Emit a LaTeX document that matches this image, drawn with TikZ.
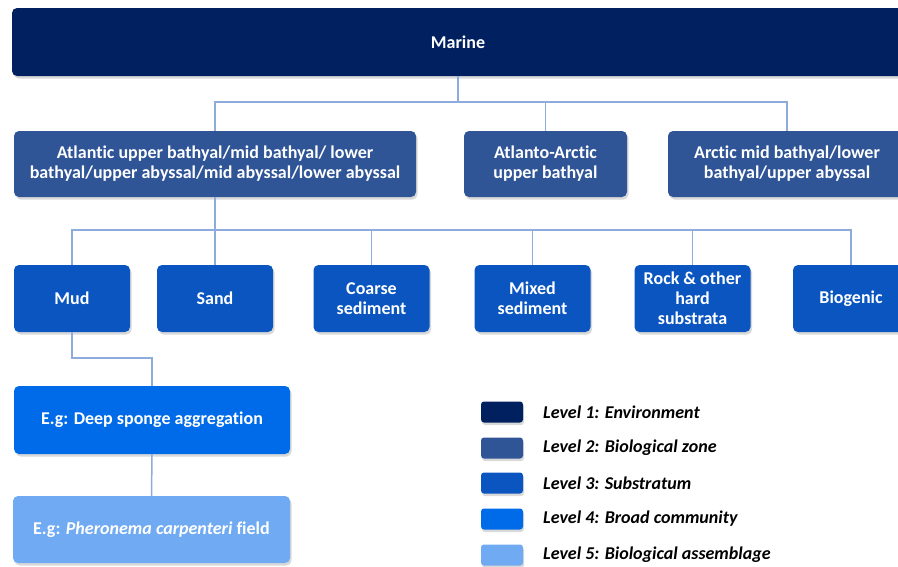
\documentclass[tikz,border=0pt]{standalone}
\usepackage{fontspec}
\setmainfont{Carlito}[Ligatures={NoCommon}]
\usetikzlibrary{shadows}
\definecolor{lvA}{HTML}{002060}
\definecolor{lvB}{HTML}{2F5597}
\definecolor{lvC}{HTML}{0A55C0}
\definecolor{lvD}{HTML}{006BE8}
\definecolor{lvE}{HTML}{6FAAF2}
\definecolor{conn}{HTML}{8FAADC}
\tikzset{
  box/.style={rectangle, rounded corners=5pt, text=white, align=center,
    font=\fontsize{18}{20}\selectfont\bfseries, inner sep=0pt,
    drop shadow={opacity=0.3, shadow xshift=1.5pt, shadow yshift=-2.5pt}},
  swatch/.style={rectangle, rounded corners=3pt, minimum width=42pt, minimum height=21pt, inner sep=0pt,
    drop shadow={opacity=0.3, shadow xshift=1pt, shadow yshift=-2.5pt}},
  legtext/.style={anchor=west, inner sep=0pt, font=\fontsize{18}{20}\selectfont\bfseries\itshape, text=black},
  link/.style={draw=conn, line width=1.5pt}
}
\begin{document}
\begin{tikzpicture}[x=1pt,y=-1pt]
\useasboundingbox (0,0) rectangle (898,566);
\clip (0,0) rectangle (898,566);
% level 1
\node[box, fill=lvA, minimum width=892pt, minimum height=68pt] (marine) at (458,42) {Marine};
% level 2
\node[box, fill=lvB, minimum width=402pt, minimum height=66pt] (z1) at (215,164) {Atlantic upper bathyal/mid bathyal/ lower\\bathyal/upper abyssal/mid abyssal/lower abyssal};
\node[box, fill=lvB, minimum width=163pt, minimum height=66pt] (z2) at (545.5,164) {Atlanto-Arctic\\upper bathyal};
\node[box, fill=lvB, minimum width=238pt, minimum height=66pt] (z3) at (787,164) {Arctic mid bathyal/lower\\bathyal/upper abyssal};
% level 3
\node[box, fill=lvC, minimum width=116pt, minimum height=67pt] (s1) at (72,298.5) {Mud};
\node[box, fill=lvC, minimum width=116pt, minimum height=67pt] (s2) at (215,298.5) {Sand};
\node[box, fill=lvC, minimum width=116pt, minimum height=67pt] (s3) at (371.5,298.5) {Coarse\\sediment};
\node[box, fill=lvC, minimum width=116pt, minimum height=67pt] (s4) at (532.5,298.5) {Mixed\\sediment};
\node[box, fill=lvC, minimum width=116pt, minimum height=67pt] (s5) at (692.5,298.5) {Rock \& other\\hard\\substrata};
\node[box, fill=lvC, minimum width=116pt, minimum height=67pt] (s6) at (851,298.5) {Biogenic};
% level 4 and 5
\node[box, fill=lvD, minimum width=276pt, minimum height=68pt] (c1) at (152,420) {E.g: Deep sponge aggregation};
\node[box, fill=lvE, minimum width=277pt, minimum height=67pt] (a1) at (151.5,529.5) {E.g: \textit{Pheronema carpenteri} field};
% connectors
\coordinate (b1) at (458,102);
\coordinate (b2) at (215,230);
\coordinate (b3) at (152,358);
\draw[link] (marine.south) -- (b1);
\draw[link] (z1.north) -- (z1.north |- b1) -- (z3.north |- b1) -- (z3.north);
\draw[link] (z2.north) -- (z2.north |- b1);
\draw[link] (z1.south) -- (b2);
\draw[link] (s1.north) -- (s1.north |- b2) -- (s6.north |- b2) -- (s6.north);
\draw[link] (s2.north) -- (s2.north |- b2);
\draw[link] (s3.north) -- (s3.north |- b2);
\draw[link] (s4.north) -- (s4.north |- b2);
\draw[link] (s5.north) -- (s5.north |- b2);
\draw[link] (s1.south) |- (b3) -- (c1.north);
\draw[link] (c1.south) -- (a1.north);
% legend
\node[swatch, fill=lvA] (k1) at (502,412) {};
\node[swatch, fill=lvB] (k2) at (502,448) {};
\node[swatch, fill=lvC] (k3) at (502,483) {};
\node[swatch, fill=lvD] (k4) at (502,519) {};
\node[swatch, fill=lvE] (k5) at (502,555) {};
\node[legtext] (t1) at (543,412) {Level 1: Environment};
\node[legtext] (t2) at (543,448) {Level 2: Biological zone};
\node[legtext] (t3) at (543,483) {Level 3: Substratum};
\node[legtext] (t4) at (543,519) {Level 4: Broad community};
\node[legtext] (t5) at (543,555) {Level 5: Biological assemblage};
\end{tikzpicture}
\end{document}
